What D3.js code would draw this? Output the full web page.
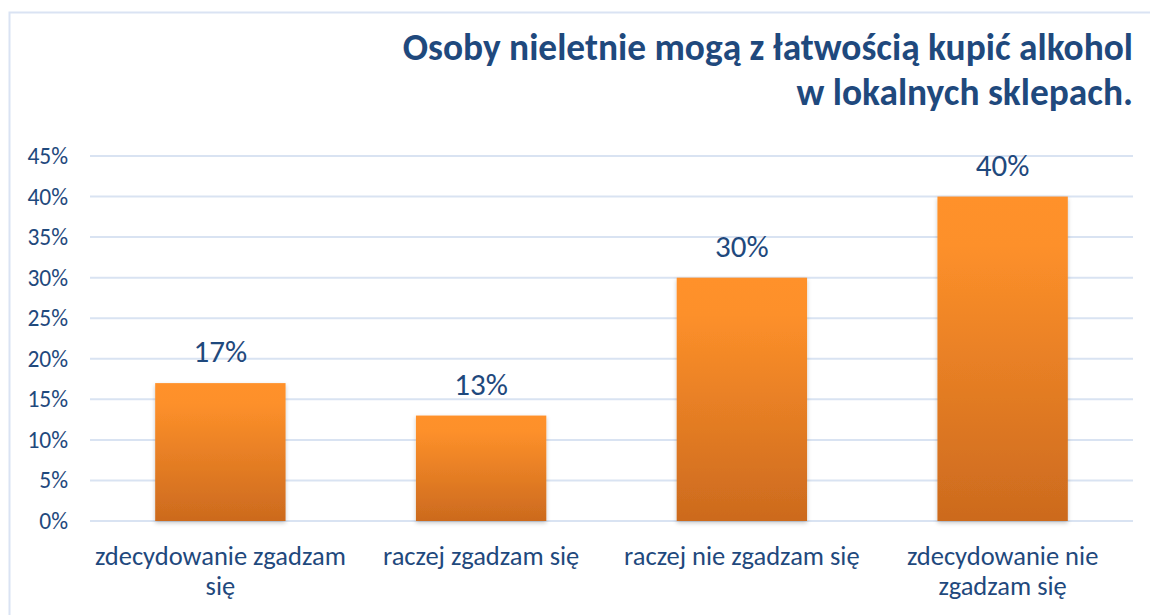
<!DOCTYPE html>
<html>
<head>
<meta charset="utf-8">
<script src="https://cdn.jsdelivr.net/npm/d3@7"></script>
<style>
  body { margin: 0; background: #fff; }
  svg { display: block; font-family: Carlito, Lato, "Open Sans", sans-serif; }
</style>
</head>
<body>
<script>
const categories = [
    ["zdecydowanie zgadzam", "się"],
    ["raczej zgadzam się"],
    ["raczej nie zgadzam się"],
    ["zdecydowanie nie", "zgadzam się"]
];
const values = [17, 13, 30, 40];
const yTicks = [0, 5, 10, 15, 20, 25, 30, 35, 40, 45];
const titleLines = ["Osoby nieletnie mogą z łatwością kupić alkohol", "w lokalnych sklepach."];

const width = 1150, height = 615;
const textColor = "#1f497d";
const gridColor = "#d9e3f2";

const svg = d3.select("body").append("svg")
    .attr("width", width)
    .attr("height", height);

const defs = svg.append("defs");
const grad = defs.append("linearGradient")
    .attr("id", "barGrad")
    .attr("x1", 0).attr("y1", 0).attr("x2", 0).attr("y2", 1);
grad.append("stop").attr("offset", "0%").attr("stop-color", "#ff912a");
grad.append("stop").attr("offset", "15%").attr("stop-color", "#fd902a");
grad.append("stop").attr("offset", "100%").attr("stop-color", "#cc6a1e");

const shadow = defs.append("filter").attr("id", "shadow")
    .attr("x", "-10%").attr("y", "-10%").attr("width", "120%").attr("height", "120%");
shadow.append("feDropShadow")
    .attr("dx", 0).attr("dy", 2).attr("stdDeviation", 2)
    .attr("flood-color", "#000").attr("flood-opacity", 0.22);

// chart frame (left + top edges visible)
svg.append("path")
    .attr("d", `M9.5,${height} V12.5 H${width}`)
    .attr("fill", "none")
    .attr("stroke", "#dae3f3")
    .attr("stroke-width", 2);

const plotLeft = 90, plotRight = 1133, plotTop = 156, plotBottom = 521;

const x = d3.scaleBand()
    .domain(d3.range(categories.length))
    .range([plotLeft, plotRight])
    .paddingInner(0.5)
    .paddingOuter(0.25);

const y = d3.scaleLinear()
    .domain([0, 45])
    .range([plotBottom, plotTop]);

// gridlines
svg.append("g")
    .selectAll("line")
    .data(yTicks)
    .join("line")
    .attr("x1", plotLeft).attr("x2", plotRight)
    .attr("y1", d => y(d)).attr("y2", d => y(d))
    .attr("stroke", gridColor)
    .attr("stroke-width", 2);

// y axis labels
const yAxis = d3.axisLeft(y)
    .tickValues(yTicks)
    .tickFormat(d => d + "%")
    .tickSize(0)
    .tickPadding(0);

svg.append("g")
    .attr("transform", `translate(68,0)`)
    .call(yAxis)
    .call(g => g.select(".domain").remove())
    .call(g => g.selectAll("text")
        .attr("fill", textColor)
        .style("font-size", "23.5px")
        .style("font-family", "Carlito, Lato, sans-serif"));

// bars
svg.append("g")
    .selectAll("rect")
    .data(values)
    .join("rect")
    .attr("x", (d, i) => x(i))
    .attr("y", d => y(d))
    .attr("width", x.bandwidth())
    .attr("height", d => y(0) - y(d))
    .attr("fill", "url(#barGrad)")
    .attr("filter", "url(#shadow)");

// data labels
svg.append("g")
    .selectAll("text")
    .data(values)
    .join("text")
    .attr("x", (d, i) => x(i) + x.bandwidth() / 2)
    .attr("y", d => y(d) - 21)
    .attr("text-anchor", "middle")
    .attr("fill", textColor)
    .style("font-size", "31px")
    .text(d => d + "%");

// category labels
const cat = svg.append("g")
    .selectAll("text")
    .data(categories)
    .join("text")
    .attr("text-anchor", "middle")
    .attr("fill", textColor)
    .style("font-size", "26.5px");

cat.selectAll("tspan")
    .data((d, i) => d.map(t => ({ t, i })))
    .join("tspan")
    .attr("x", d => x(d.i) + x.bandwidth() / 2)
    .attr("y", (d, j) => 565 + j * 30)
    .text(d => d.t);

// title
svg.append("g")
    .selectAll("text")
    .data(titleLines)
    .join("text")
    .attr("x", plotRight)
    .attr("y", (d, i) => 60 + i * 45)
    .attr("text-anchor", "end")
    .attr("fill", "#1f497d")
    .style("font-size", "37.4px")
    .style("font-weight", "bold")
    .text(d => d);
</script>
</body>
</html>
